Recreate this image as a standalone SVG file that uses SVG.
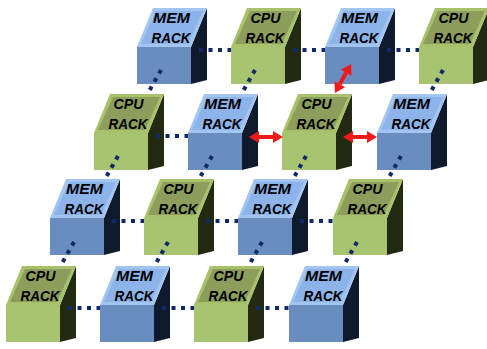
<svg xmlns="http://www.w3.org/2000/svg" xmlns:xlink="http://www.w3.org/1999/xlink" width="487" height="349" viewBox="0 0 487 349">
<style>
.lbl{font-family:"Liberation Sans",Arial,sans-serif;font-weight:bold;font-style:italic;font-size:15.5px;fill:#000;text-anchor:middle}
.dots{stroke:#10296b;stroke-width:4;stroke-dasharray:4 5.5;fill:none}
.red{stroke:#f01818;stroke-width:4;fill:none;marker-start:url(#ah);marker-end:url(#ah)}
</style>
<defs>
<marker id="ah" markerUnits="userSpaceOnUse" markerWidth="12" markerHeight="14" refX="0" refY="7" viewBox="0 0 12 14" orient="auto-start-reverse" overflow="visible">
<path d="M0,1 L10,7 L0,13 Z" fill="#f01818"/>
</marker>
<g id="memBox">
<polygon points="54,0 70,-39 70,33 54,37" fill="#0f1b2c"/>
<polygon points="0,0 54,0 70,-39 16,-39" fill="#a2c5f2"/>
<polygon points="4,-3 51,-3 66,-36 19,-36" fill="#8cb4ea"/>
<rect x="0" y="0" width="54" height="37" fill="#6a8dbf"/>
</g>
<g id="cpuBox">
<polygon points="54,0 70,-39 70,33 54,37" fill="#222a12"/>
<polygon points="0,0 54,0 70,-39 16,-39" fill="#a8c26c"/>
<polygon points="4,-3 51,-3 66,-36 19,-36" fill="#8c9d5c"/>
<rect x="0" y="0" width="54" height="37" fill="#a9c470"/>
</g>
</defs>
<rect width="487" height="349" fill="#fff"/>
<!-- row 1 -->
<g id="r1c1" transform="translate(137,47)"><use xlink:href="#memBox"/><text class="lbl" x="34.5" y="-24" textLength="37" lengthAdjust="spacingAndGlyphs">MEM</text><text class="lbl" x="34" y="-4" textLength="39" lengthAdjust="spacingAndGlyphs">RACK</text></g>
<g id="r1c2" transform="translate(231,47)"><use xlink:href="#cpuBox"/><text class="lbl" x="34.5" y="-24" textLength="30" lengthAdjust="spacingAndGlyphs">CPU</text><text class="lbl" x="34" y="-4" textLength="39" lengthAdjust="spacingAndGlyphs">RACK</text></g>
<g id="r1c3" transform="translate(325,47)"><use xlink:href="#memBox"/><text class="lbl" x="34.5" y="-24" textLength="37" lengthAdjust="spacingAndGlyphs">MEM</text><text class="lbl" x="34" y="-4" textLength="39" lengthAdjust="spacingAndGlyphs">RACK</text></g>
<g id="r1c4" transform="translate(419,47)"><use xlink:href="#cpuBox"/><text class="lbl" x="34.5" y="-24" textLength="30" lengthAdjust="spacingAndGlyphs">CPU</text><text class="lbl" x="34" y="-4" textLength="39" lengthAdjust="spacingAndGlyphs">RACK</text></g>
<!-- row 2 -->
<g id="r2c1" transform="translate(94,133)"><use xlink:href="#cpuBox"/><text class="lbl" x="34.5" y="-24" textLength="30" lengthAdjust="spacingAndGlyphs">CPU</text><text class="lbl" x="34" y="-4" textLength="39" lengthAdjust="spacingAndGlyphs">RACK</text></g>
<g id="r2c2" transform="translate(188,133)"><use xlink:href="#memBox"/><text class="lbl" x="34.5" y="-24" textLength="37" lengthAdjust="spacingAndGlyphs">MEM</text><text class="lbl" x="34" y="-4" textLength="39" lengthAdjust="spacingAndGlyphs">RACK</text></g>
<g id="r2c3" transform="translate(282,133)"><use xlink:href="#cpuBox"/><text class="lbl" x="34.5" y="-24" textLength="30" lengthAdjust="spacingAndGlyphs">CPU</text><text class="lbl" x="34" y="-4" textLength="39" lengthAdjust="spacingAndGlyphs">RACK</text></g>
<g id="r2c4" transform="translate(377,133)"><use xlink:href="#memBox"/><text class="lbl" x="34.5" y="-24" textLength="37" lengthAdjust="spacingAndGlyphs">MEM</text><text class="lbl" x="34" y="-4" textLength="39" lengthAdjust="spacingAndGlyphs">RACK</text></g>
<!-- row 3 -->
<g id="r3c1" transform="translate(50,218)"><use xlink:href="#memBox"/><text class="lbl" x="34.5" y="-24" textLength="37" lengthAdjust="spacingAndGlyphs">MEM</text><text class="lbl" x="34" y="-4" textLength="39" lengthAdjust="spacingAndGlyphs">RACK</text></g>
<g id="r3c2" transform="translate(144,218)"><use xlink:href="#cpuBox"/><text class="lbl" x="34.5" y="-24" textLength="30" lengthAdjust="spacingAndGlyphs">CPU</text><text class="lbl" x="34" y="-4" textLength="39" lengthAdjust="spacingAndGlyphs">RACK</text></g>
<g id="r3c3" transform="translate(238,218)"><use xlink:href="#memBox"/><text class="lbl" x="34.5" y="-24" textLength="37" lengthAdjust="spacingAndGlyphs">MEM</text><text class="lbl" x="34" y="-4" textLength="39" lengthAdjust="spacingAndGlyphs">RACK</text></g>
<g id="r3c4" transform="translate(333,218)"><use xlink:href="#cpuBox"/><text class="lbl" x="34.5" y="-24" textLength="30" lengthAdjust="spacingAndGlyphs">CPU</text><text class="lbl" x="34" y="-4" textLength="39" lengthAdjust="spacingAndGlyphs">RACK</text></g>
<!-- row 4 -->
<g id="r4c1" transform="translate(6,305)"><use xlink:href="#cpuBox"/><text class="lbl" x="34.5" y="-24" textLength="30" lengthAdjust="spacingAndGlyphs">CPU</text><text class="lbl" x="34" y="-4" textLength="39" lengthAdjust="spacingAndGlyphs">RACK</text></g>
<g id="r4c2" transform="translate(100,305)"><use xlink:href="#memBox"/><text class="lbl" x="34.5" y="-24" textLength="37" lengthAdjust="spacingAndGlyphs">MEM</text><text class="lbl" x="34" y="-4" textLength="39" lengthAdjust="spacingAndGlyphs">RACK</text></g>
<g id="r4c3" transform="translate(194,305)"><use xlink:href="#cpuBox"/><text class="lbl" x="34.5" y="-24" textLength="30" lengthAdjust="spacingAndGlyphs">CPU</text><text class="lbl" x="34" y="-4" textLength="39" lengthAdjust="spacingAndGlyphs">RACK</text></g>
<g id="r4c4" transform="translate(289,305)"><use xlink:href="#memBox"/><text class="lbl" x="34.5" y="-24" textLength="37" lengthAdjust="spacingAndGlyphs">MEM</text><text class="lbl" x="34" y="-4" textLength="39" lengthAdjust="spacingAndGlyphs">RACK</text></g>
<g id="connectors">
<!-- horizontal -->
<line class="dots" x1="199" y1="50" x2="231" y2="50"/>
<line class="dots" x1="293" y1="50" x2="325" y2="50"/>
<line class="dots" x1="387" y1="50" x2="419" y2="50"/>
<line class="dots" x1="156" y1="136" x2="188" y2="136"/>
<line class="dots" x1="112" y1="221" x2="144" y2="221"/>
<line class="dots" x1="206" y1="221" x2="238" y2="221"/>
<line class="dots" x1="300" y1="221" x2="333" y2="221"/>
<line class="dots" x1="68" y1="308" x2="100" y2="308"/>
<line class="dots" x1="162" y1="308" x2="194" y2="308"/>
<line class="dots" x1="256" y1="308" x2="289" y2="308"/>
<!-- diagonal -->
<line class="dots" x1="161" y1="70" x2="147.5" y2="94"/>
<line class="dots" x1="255" y1="70" x2="241.5" y2="94"/>
<line class="dots" x1="443" y1="70" x2="429.5" y2="94"/>
<line class="dots" x1="118" y1="156" x2="104.5" y2="180"/>
<line class="dots" x1="212" y1="156" x2="198.5" y2="180"/>
<line class="dots" x1="306" y1="156" x2="292.5" y2="180"/>
<line class="dots" x1="401" y1="156" x2="387.5" y2="180"/>
<line class="dots" x1="74" y1="242" x2="60.5" y2="266"/>
<line class="dots" x1="168" y1="242" x2="154.5" y2="266"/>
<line class="dots" x1="262" y1="242" x2="248.5" y2="266"/>
<line class="dots" x1="357" y1="242" x2="343.5" y2="266"/>
<!-- red double arrows -->
<line class="red" x1="259" y1="137" x2="273" y2="137"/>
<line class="red" x1="353" y1="137" x2="367" y2="137"/>
<line class="red" x1="339.8" y1="84.2" x2="346.2" y2="72.8"/>
</g>
</svg>
